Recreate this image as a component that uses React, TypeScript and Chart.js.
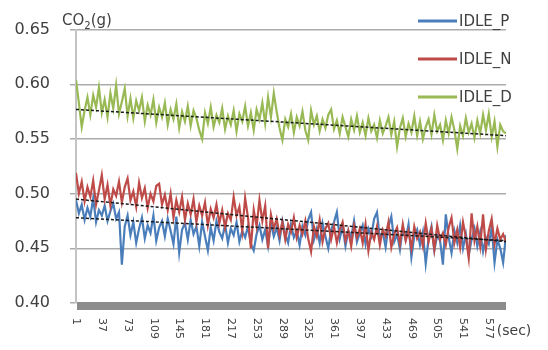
import React, { useEffect, useRef } from "react";
import { Chart, registerables } from "chart.js";

Chart.register(...registerables);

// seconds of each sample (every 4th second, 1..601)
const SECONDS: number[] = Array.from({ length: 151 }, (_, i) => 1 + 4 * i);
const X_TICKS: number[] = [1, 37, 73, 109, 145, 181, 217, 253, 289, 325, 361, 397, 433, 469, 505, 541, 577];
const Y_TICKS: number[] = [0.4, 0.45, 0.5, 0.55, 0.6, 0.65];

const IDLE_P: number[] = [
  0.494, 0.482, 0.490, 0.476, 0.487, 0.479, 0.496, 0.474, 0.485, 0.480,
  0.489, 0.475, 0.484, 0.491, 0.477, 0.483, 0.435, 0.470, 0.480, 0.462,
  0.474, 0.455, 0.468, 0.478, 0.459, 0.471, 0.464, 0.480, 0.457, 0.469,
  0.475, 0.461, 0.477, 0.466, 0.454, 0.479, 0.446, 0.467, 0.473, 0.458,
  0.476, 0.463, 0.470, 0.452, 0.474, 0.461, 0.448, 0.469, 0.457, 0.475,
  0.465, 0.459, 0.472, 0.455, 0.468, 0.462, 0.474, 0.456, 0.466, 0.460,
  0.470, 0.454, 0.448, 0.463, 0.471, 0.458, 0.467, 0.452, 0.473, 0.461,
  0.469, 0.457, 0.475, 0.463, 0.455, 0.472, 0.460, 0.466, 0.453, 0.470,
  0.462, 0.476, 0.483, 0.458, 0.468, 0.455, 0.473, 0.461, 0.450, 0.467,
  0.474, 0.483, 0.459, 0.470, 0.452, 0.466, 0.460, 0.475, 0.456, 0.464,
  0.471, 0.454, 0.468, 0.461, 0.477, 0.483, 0.458, 0.465, 0.451, 0.470,
  0.479, 0.456, 0.463, 0.449, 0.469, 0.458, 0.472, 0.442, 0.461, 0.467,
  0.453, 0.465, 0.436, 0.459, 0.470, 0.448, 0.462, 0.457, 0.435, 0.481,
  0.460, 0.446, 0.466, 0.455, 0.471, 0.450, 0.463, 0.444, 0.458, 0.468,
  0.452, 0.465, 0.447, 0.460, 0.454, 0.469, 0.437, 0.458, 0.450, 0.437,
  0.462,
];

const IDLE_N: number[] = [
  0.519, 0.500, 0.511, 0.493, 0.506, 0.497, 0.512, 0.490, 0.503, 0.517,
  0.495, 0.508, 0.489, 0.504, 0.498, 0.511, 0.492, 0.506, 0.514, 0.494,
  0.502, 0.488, 0.510, 0.496, 0.505, 0.487, 0.500, 0.493, 0.507, 0.509,
  0.490, 0.499, 0.485, 0.500, 0.478, 0.494, 0.483, 0.497, 0.476, 0.491,
  0.481, 0.495, 0.474, 0.489, 0.480, 0.492, 0.471, 0.486, 0.478, 0.490,
  0.473, 0.485, 0.469, 0.482, 0.476, 0.497, 0.480, 0.488, 0.466, 0.496,
  0.478, 0.450, 0.485, 0.470, 0.494, 0.475, 0.489, 0.450, 0.481, 0.468,
  0.477, 0.462, 0.474, 0.458, 0.472, 0.465, 0.478, 0.460, 0.471, 0.463,
  0.475, 0.459, 0.447, 0.470, 0.461, 0.476, 0.456, 0.468, 0.473, 0.458,
  0.470, 0.455, 0.467, 0.474, 0.457, 0.466, 0.452, 0.471, 0.460, 0.468,
  0.455, 0.472, 0.448, 0.465, 0.458, 0.470, 0.453, 0.467, 0.461, 0.474,
  0.451, 0.463, 0.469, 0.454, 0.472, 0.457, 0.466, 0.450, 0.470, 0.459,
  0.465, 0.452, 0.473, 0.456, 0.468, 0.449, 0.471, 0.458, 0.464, 0.453,
  0.469, 0.478, 0.455, 0.467, 0.451, 0.474, 0.460, 0.441, 0.482, 0.457,
  0.470, 0.452, 0.481, 0.449, 0.466, 0.477, 0.454, 0.468, 0.458, 0.463,
  0.456,
];

const IDLE_D: number[] = [
  0.604, 0.583, 0.561, 0.576, 0.588, 0.572, 0.590, 0.579, 0.597, 0.574,
  0.586, 0.570, 0.592, 0.578, 0.599, 0.573, 0.584, 0.596, 0.571, 0.587,
  0.569, 0.585, 0.576, 0.588, 0.566, 0.581, 0.572, 0.586, 0.565, 0.579,
  0.570, 0.583, 0.563, 0.577, 0.568, 0.582, 0.560, 0.575, 0.566, 0.580,
  0.562, 0.576, 0.569, 0.558, 0.550, 0.574, 0.564, 0.579, 0.561, 0.572,
  0.565, 0.578, 0.559, 0.571, 0.563, 0.576, 0.557, 0.573, 0.566, 0.580,
  0.562, 0.574, 0.558, 0.577, 0.568, 0.583, 0.564, 0.588, 0.570, 0.592,
  0.575, 0.560, 0.549, 0.568, 0.561, 0.573, 0.556, 0.570, 0.562, 0.575,
  0.558, 0.549, 0.576, 0.563, 0.571, 0.557, 0.568, 0.560, 0.572, 0.577,
  0.559, 0.567, 0.555, 0.570, 0.561, 0.552, 0.568, 0.558, 0.571, 0.556,
  0.565, 0.553, 0.569, 0.557, 0.563, 0.551, 0.567, 0.555, 0.562, 0.570,
  0.554, 0.566, 0.543, 0.560, 0.569, 0.552, 0.564, 0.556, 0.571, 0.553,
  0.566, 0.550, 0.561, 0.568, 0.554, 0.572, 0.557, 0.563, 0.549, 0.567,
  0.555, 0.570, 0.558, 0.541, 0.562, 0.553, 0.569, 0.556, 0.564, 0.551,
  0.567, 0.555, 0.572, 0.558, 0.573, 0.552, 0.566, 0.543, 0.563, 0.557,
  0.555,
];

// linear trend lines: [value at first second, value at last second]
const TREND_SECONDS: number[] = [1, 601];
const TREND_P: number[] = [0.478, 0.457];
const TREND_N: number[] = [0.495, 0.456];
const TREND_D: number[] = [0.577, 0.553];

const SERIES_NAMES: string[] = ["IDLE_P", "IDLE_N", "IDLE_D"];
const COLORS: string[] = ["#4A7EBB", "#BE4B48", "#98B954"];

const FONT = "'DejaVu Sans', 'Noto Sans', sans-serif";
const TEXT = "#404040";

const pts = (xs: number[], ys: number[]) => ys.map((y, i) => ({ x: xs[i], y }));

const decorPlugin = {
  id: "decor",
  afterDraw(chart: any) {
    const ctx = chart.ctx as CanvasRenderingContext2D;
    const area = chart.chartArea;
    const xs = chart.scales.x;
    ctx.save();
    // thick grey floor bar
    ctx.fillStyle = "#8c8c8c";
    ctx.fillRect(area.left + 1, area.bottom - 1, area.right - area.left - 1, 8);

    // rotated x tick labels
    ctx.fillStyle = TEXT;
    ctx.font = `11px ${FONT}`;
    ctx.textAlign = "left";
    ctx.textBaseline = "middle";
    X_TICKS.forEach((s) => {
      const px = xs.getPixelForValue(s);
      ctx.save();
      ctx.translate(px, area.bottom + 15);
      ctx.rotate(Math.PI / 2);
      ctx.fillText(String(s), 0, 0);
      ctx.restore();
    });
    ctx.font = `14px ${FONT}`;
    ctx.textBaseline = "alphabetic";
    ctx.fillText("(sec)", xs.getPixelForValue(577) + 8, area.bottom + 32);

    // y title CO2(g)
    ctx.font = `15px ${FONT}`;
    ctx.fillText("CO", 62, 25);
    const w = ctx.measureText("CO").width;
    ctx.font = `10px ${FONT}`;
    ctx.fillText("2", 62 + w, 29);
    const w2 = ctx.measureText("2").width;
    ctx.font = `15px ${FONT}`;
    ctx.fillText("(g)", 62 + w + w2, 25);

    // legend
    const ly = [21, 59, 97];
    SERIES_NAMES.forEach((n, i) => {
      ctx.strokeStyle = COLORS[i];
      ctx.lineWidth = 3;
      ctx.beginPath();
      ctx.moveTo(418, ly[i]);
      ctx.lineTo(457, ly[i]);
      ctx.stroke();
      ctx.fillStyle = TEXT;
      ctx.font = `15px ${FONT}`;
      ctx.textBaseline = "middle";
      ctx.fillText(n, 459, ly[i] + 1);
    });
    ctx.restore();
  },
};

export default function App() {
  const ref = useRef<HTMLCanvasElement | null>(null);
  useEffect(() => {
    if (!ref.current) return;
    const series = [IDLE_P, IDLE_N, IDLE_D];
    const trends = [TREND_P, TREND_N, TREND_D];
    const orders = [3, 2, 1];
    const datasets: any[] = series.map((s, i) => ({
      label: SERIES_NAMES[i],
      data: pts(SECONDS, s),
      borderColor: COLORS[i],
      backgroundColor: COLORS[i],
      borderWidth: 2.2,
      pointRadius: 0,
      tension: 0,
      order: orders[i],
    }));
    trends.forEach((t, i) => {
      datasets.push({
        label: "trend " + SERIES_NAMES[i],
        data: pts(TREND_SECONDS, t),
        borderColor: "#1a1a1a",
        borderWidth: 1.5,
        borderDash: [3, 2],
        pointRadius: 0,
        order: 0,
      });
    });
    const chart = new Chart(ref.current, {
      type: "line",
      data: { datasets },
      options: {
        animation: false,
        responsive: false,
        devicePixelRatio: 1,
        layout: { padding: { top: 29, right: 42, left: 0, bottom: 0 } },
        plugins: { legend: { display: false }, tooltip: { enabled: false } },
        scales: {
          x: {
            type: "linear",
            min: 1,
            max: 601,
            ticks: { display: false },
            grid: { display: false },
            border: { display: false },
            afterFit: (s: any) => {
              s.height = 47;
            },
          },
          y: {
            min: 0.4,
            max: 0.65,
            afterBuildTicks: (s: any) => {
              s.ticks = Y_TICKS.map((v) => ({ value: v }));
            },
            ticks: {
              padding: 20,
              color: TEXT,
              font: { family: FONT, size: 16 },
              callback: (v: any) => Number(v).toFixed(2),
            },
            grid: { color: "#ababab", lineWidth: 1.5, tickLength: 6 },
            border: { color: "#c4c4c4", width: 2 },
            afterFit: (s: any) => {
              s.width = 76;
            },
          },
        },
      },
      plugins: [decorPlugin],
    });
    return () => chart.destroy();
  }, []);
  return (
    <div style={{ position: "fixed", left: 0, top: 0, width: 548, height: 350, background: "#fff" }}>
      <canvas ref={ref} width={548} height={350} style={{ width: 548, height: 350 }} />
    </div>
  );
}
